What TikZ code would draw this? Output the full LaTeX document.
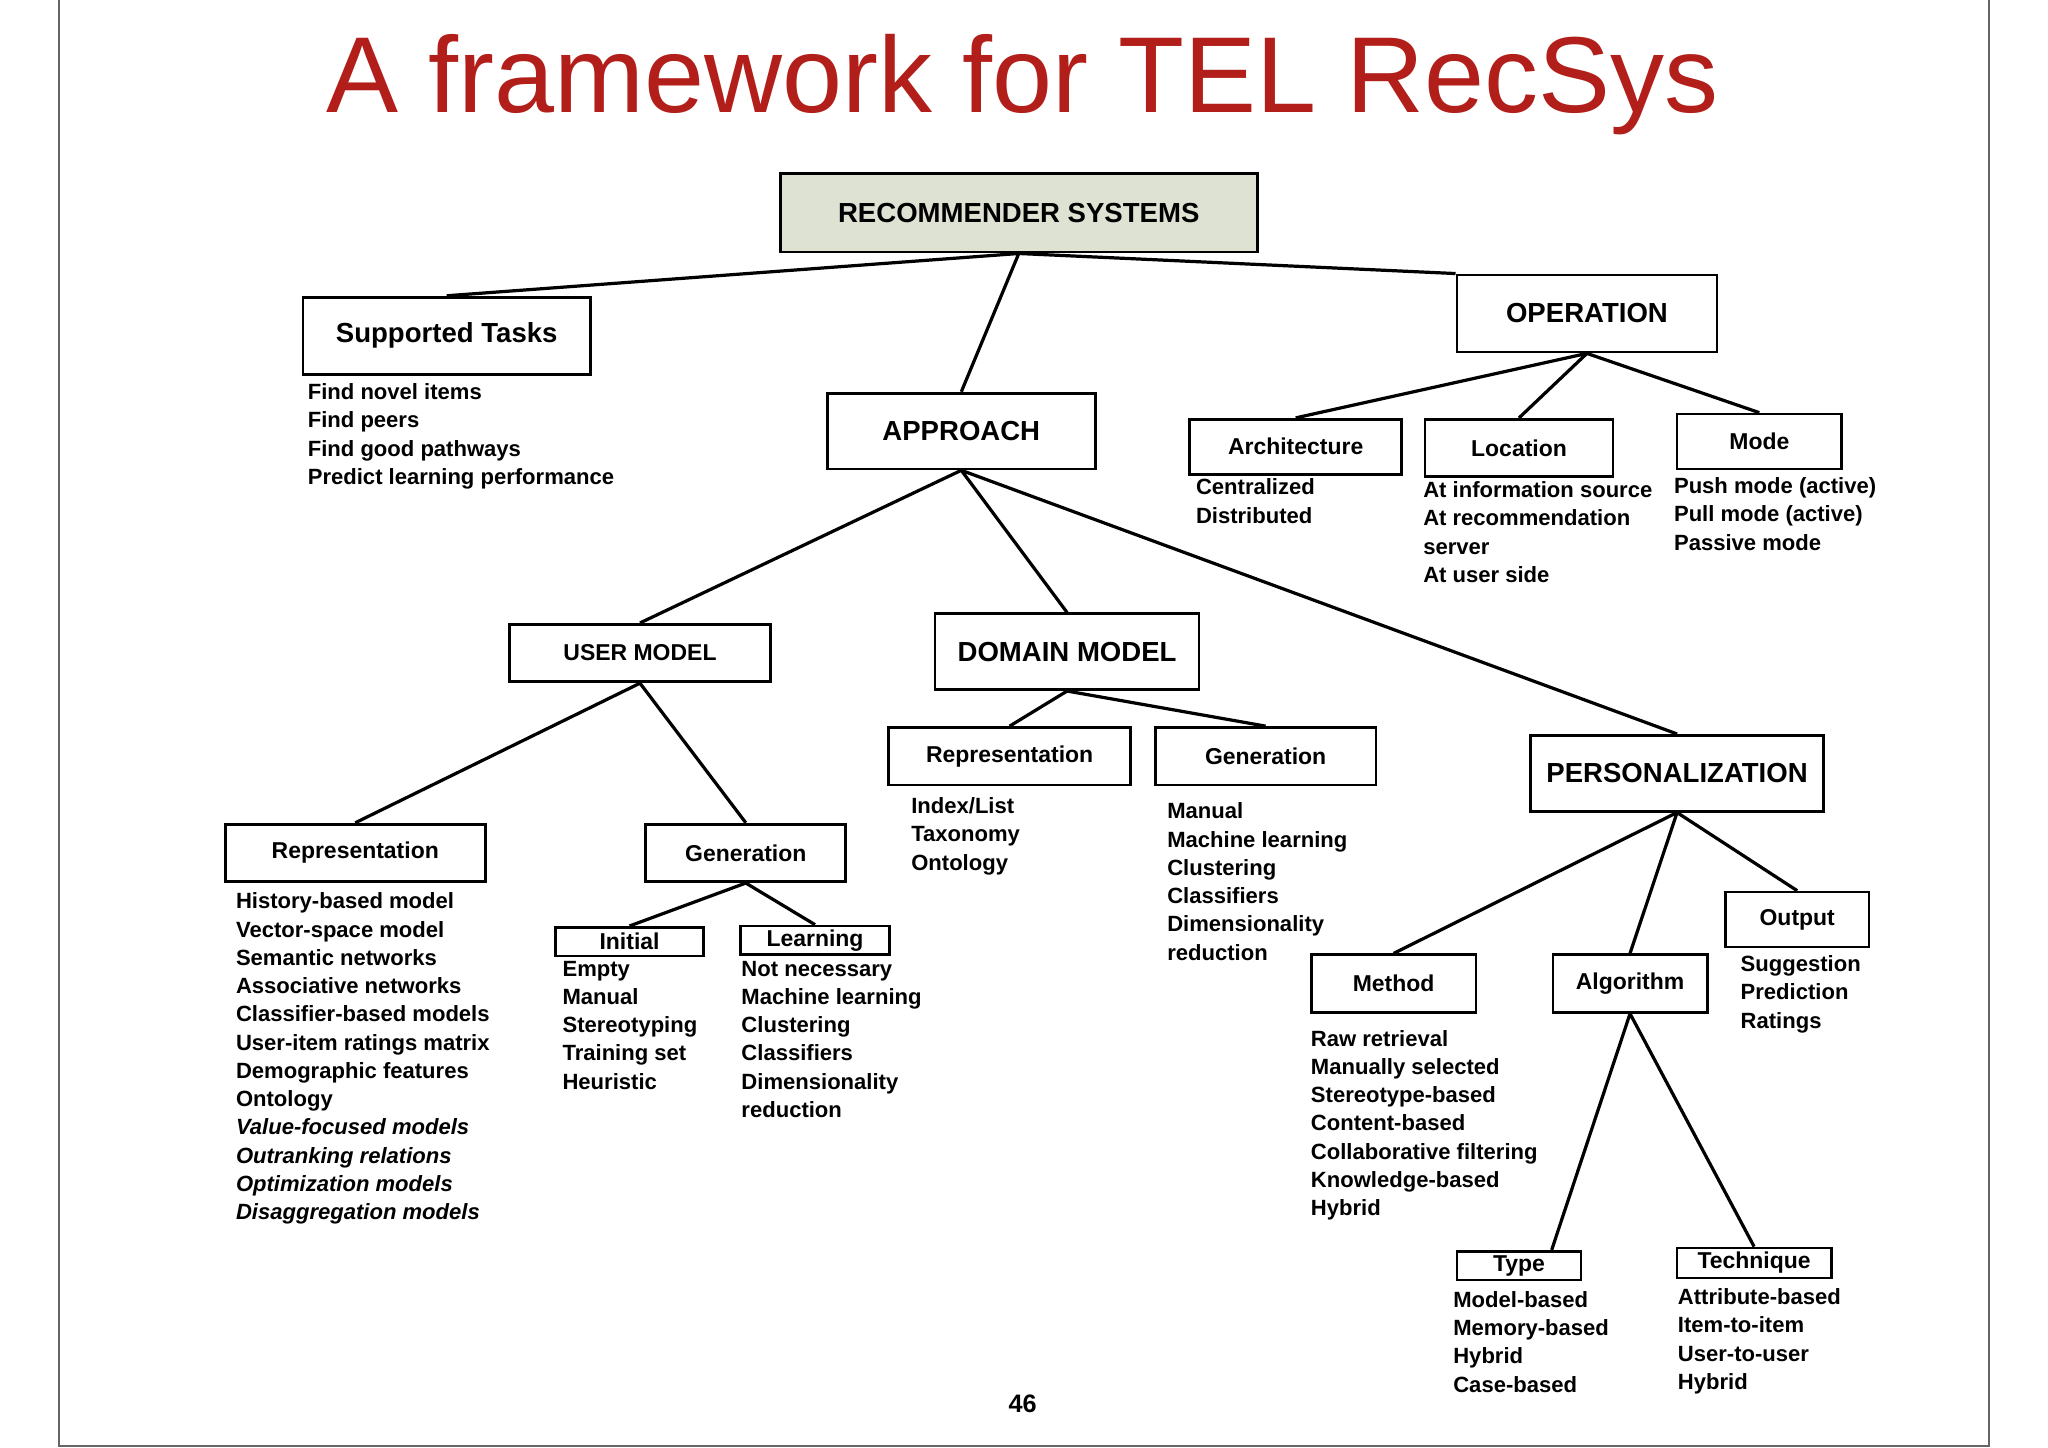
\documentclass[tikz,border=0pt]{standalone}
\usepackage{fontspec}
\setmainfont{Liberation Sans}
\usetikzlibrary{positioning}
\definecolor{titlered}{RGB}{178,30,25}
\definecolor{rootfill}{RGB}{222,226,210}
\tikzstyle{box}=[draw=black,line width=0.6pt,inner sep=0pt,font=\fontsize{5}{6}\selectfont\bfseries]
\tikzstyle{bigbox}=[box,font=\fontsize{6}{7}\selectfont\bfseries]
\tikzstyle{items}=[anchor=north west,inner sep=0pt,align=left,font=\fontsize{4.8}{6.15}\selectfont\bfseries]
\tikzstyle{link}=[line width=0.7pt]

\begin{document}
\begin{tikzpicture}[x=0.01cm,y=-0.01cm]
  \useasboundingbox (0,0) rectangle (1568,1108);
  \draw[line width=0.5pt,black!60] (45,0) -- (45,1107) -- (1523,1107) -- (1523,0);
  \node[text=titlered,font=\fontsize{23.5}{24}\selectfont] (title) at (783,65) {A framework for TEL RecSys};

  % boxes
  \node[bigbox,fill=rootfill,minimum width=3.65cm,minimum height=0.6cm] (rs) at (780,163) {RECOMMENDER SYSTEMS};
  \node[bigbox,minimum width=2.2cm,minimum height=0.59cm] (tasks) at (342,257) {Supported Tasks};
  \node[bigbox,minimum width=1.99cm,minimum height=0.59cm] (op) at (1215,240) {OPERATION};
  \node[bigbox,minimum width=2.05cm,minimum height=0.58cm] (appr) at (736,330) {APPROACH};
  \node[box,minimum width=1.62cm,minimum height=0.42cm] (arch) at (992,342) {Architecture};
  \node[box,minimum width=1.44cm,minimum height=0.44cm] (loc) at (1163,343) {Location};
  \node[box,minimum width=1.26cm,minimum height=0.42cm] (mode) at (1347,338) {Mode};
  \node[box,minimum width=2.0cm,minimum height=0.44cm] (um) at (490,500) {USER MODEL};
  \node[bigbox,minimum width=2.02cm,minimum height=0.58cm] (dm) at (817,499) {DOMAIN MODEL};
  \node[box,minimum width=1.85cm,minimum height=0.44cm] (dmrep) at (773,579) {Representation};
  \node[box,minimum width=1.69cm,minimum height=0.44cm] (dmgen) at (969,579) {Generation};
  \node[bigbox,minimum width=2.24cm,minimum height=0.58cm] (pers) at (1284,592) {PERSONALIZATION};
  \node[box,minimum width=1.99cm,minimum height=0.44cm] (umrep) at (272,653) {Representation};
  \node[box,minimum width=1.53cm,minimum height=0.44cm] (umgen) at (571,653) {Generation};
  \node[box,minimum width=1.13cm,minimum height=0.22cm] (init) at (482,721) {Initial};
  \node[box,minimum width=1.14cm,minimum height=0.22cm] (learn) at (624,720) {Learning};
  \node[box,minimum width=1.10cm,minimum height=0.42cm] (out) at (1376,704) {Output};
  \node[box,minimum width=1.26cm,minimum height=0.44cm] (meth) at (1067,753) {Method};
  \node[box,minimum width=1.18cm,minimum height=0.44cm] (algo) at (1248,753) {Algorithm};
  \node[box,minimum width=0.95cm,minimum height=0.22cm] (type) at (1163,969) {Type};
  \node[box,minimum width=1.18cm,minimum height=0.23cm] (tech) at (1343,967) {Technique};

  % connectors
  \draw[link] (rs.south) -- (tasks.north)
              (rs.south) -- (appr.north)
              (rs.south) -- (op.north west)
              (op.south) -- (arch.north)
              (op.south) -- (loc.north)
              (op.south) -- (mode.north)
              (appr.south) -- (um.north)
              (appr.south) -- (dm.north)
              (appr.south) -- (pers.north)
              (um.south) -- (umrep.north)
              (um.south) -- (umgen.north)
              (umgen.south) -- (init.north)
              (umgen.south) -- (learn.north)
              (dm.south) -- (dmrep.north)
              (dm.south) -- (dmgen.north)
              (pers.south) -- (meth.north)
              (pers.south) -- (algo.north)
              (pers.south) -- (out.north)
              (algo.south) -- ([xshift=0.25cm]type.north)
              (algo.south) -- (tech.north);

  % item lists
  \node[items] (tasksl) at (235,293) {Find novel items\\Find peers\\Find good pathways\\Predict learning performance};
  \node[items] (archl) at (915,366) {Centralized\\Distributed};
  \node[items] (locl) at (1089,368) {At information source\\At recommendation\\server\\At user side};
  \node[items] (model) at (1281,365) {Push mode (active)\\Pull mode (active)\\Passive mode};
  \node[items] (umrepl) at (180,683) {History-based model\\Vector-space model\\Semantic networks\\Associative networks\\Classifier-based models\\User-item ratings matrix\\Demographic features\\Ontology\\\textit{Value-focused models}\\\textit{Outranking relations}\\\textit{Optimization models}\\\textit{Disaggregation models}};
  \node[items] (initl) at (430,735) {Empty\\Manual\\Stereotyping\\Training set\\Heuristic};
  \node[items] (learnl) at (567,735) {Not necessary\\Machine learning\\Clustering\\Classifiers\\Dimensionality\\reduction};
  \node[items] (dmrepl) at (697,610) {Index/List\\Taxonomy\\Ontology};
  \node[items] (dmgenl) at (893,614) {Manual\\Machine learning\\Clustering\\Classifiers\\Dimensionality\\reduction};
  \node[items] (outl) at (1332,731) {Suggestion\\Prediction\\Ratings};
  \node[items] (methl) at (1003,788) {Raw retrieval\\Manually selected\\Stereotype-based\\Content-based\\Collaborative filtering\\Knowledge-based\\Hybrid};
  \node[items] (typel) at (1112,988) {Model-based\\Memory-based\\Hybrid\\Case-based};
  \node[items] (techl) at (1284,986) {Attribute-based\\Item-to-item\\User-to-user\\Hybrid};

  \node[font=\fontsize{5.5}{6}\selectfont\bfseries] (page) at (783,1075) {46};
\end{tikzpicture}
\end{document}
